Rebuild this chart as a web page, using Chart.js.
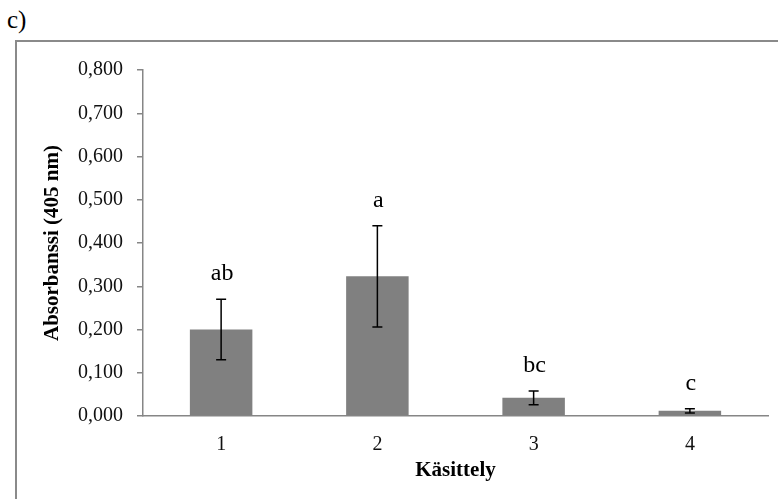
<!DOCTYPE html>
<html>
<head>
<meta charset="utf-8">
<script src="https://cdn.jsdelivr.net/npm/chart.js@4.4.1/dist/chart.umd.min.js"></script>
<style>
  html, body { margin: 0; padding: 0; background: #fff; }
  #wrap { position: relative; width: 778px; height: 499px; overflow: hidden; }
  #frame { position: absolute; left: 15px; top: 40px; width: 800px; height: 500px;
           border-left: 2px solid #8a8a8a; border-top: 2px solid #8a8a8a; box-sizing: border-box; }
  #panel { position: absolute; left: 7px; top: 7px; font: 25px/1 "Liberation Serif", "Times New Roman", serif; color: #000; }
  #c { position: absolute; left: 0; top: 0; }
</style>
</head>
<body>
<div id="wrap">
  <div id="frame"></div>
  <div id="panel">c)</div>
  <canvas id="c" width="778" height="499"></canvas>
</div>
<script>
const categories = ['1', '2', '3', '4'];
const means = [0.200, 0.323, 0.042, 0.012];
const errors = [0.070, 0.117, 0.016, 0.005];
const letters = ['ab', 'a', 'bc', 'c'];
const yTickLabels = ['0,000', '0,100', '0,200', '0,300', '0,400', '0,500', '0,600', '0,700', '0,800'];
const yTitle = 'Absorbanssi (405 nm)';
const xTitle = 'Käsittely';

const serif = '"Liberation Serif", "Times New Roman", serif';

const errorBarPlugin = {
  id: 'errorBars',
  afterDatasetsDraw(chart) {
    const ctx = chart.ctx;
    const meta = chart.getDatasetMeta(0);
    const ys = chart.scales.y;
    ctx.save();
    ctx.strokeStyle = '#000';
    ctx.lineWidth = 1.5;
    meta.data.forEach((bar, i) => {
      const x = bar.x;
      const yt = ys.getPixelForValue(means[i] + errors[i]);
      const yb = ys.getPixelForValue(means[i] - errors[i]);
      ctx.beginPath();
      ctx.moveTo(x, yt); ctx.lineTo(x, yb);
      ctx.moveTo(x - 5, yt); ctx.lineTo(x + 5, yt);
      ctx.moveTo(x - 5, yb); ctx.lineTo(x + 5, yb);
      ctx.stroke();
      ctx.fillStyle = '#000';
      ctx.font = '24px ' + serif;
      ctx.textAlign = 'center';
      ctx.textBaseline = 'alphabetic';
      ctx.fillText(letters[i], x + 1, yt - 19);
    });
    ctx.restore();
  }
};

new Chart(document.getElementById('c'), {
  type: 'bar',
  data: {
    labels: categories,
    datasets: [{
      data: means,
      backgroundColor: '#808080',
      borderWidth: 0,
      barPercentage: 0.4,
      categoryPercentage: 1.0
    }]
  },
  options: {
    responsive: false,
    animation: false,
    devicePixelRatio: 1,
    layout: { padding: { left: 30, right: 10, top: 70, bottom: 0 } },
    plugins: { legend: { display: false }, tooltip: { enabled: false } },
    scales: {
      x: {
        grid: { display: false },
        border: { display: true, color: '#868686', width: 1.5 },
        ticks: { color: '#111', font: { family: serif, size: 20 }, padding: 9, maxRotation: 0 },
        title: { display: true, text: xTitle, color: '#000',
                 font: { family: serif, size: 21, weight: 'bold' }, padding: { top: 0, bottom: 16 } },
        afterFit(s) { s.height = 83; }
      },
      y: {
        min: 0, max: 0.8,
        ticks: {
          stepSize: 0.1, color: '#111', padding: 14,
          font: { family: serif, size: 20 },
          callback: (v, i) => yTickLabels[i]
        },
        grid: { drawOnChartArea: false, drawTicks: true, tickLength: 6, color: '#868686', lineWidth: 1.5 },
        border: { display: true, color: '#868686', width: 1.5 },
        title: { display: true, text: yTitle, color: '#000',
                 font: { family: serif, size: 21, weight: 'bold' }, padding: { top: 10, bottom: 0 } },
        afterFit(s) { s.width = 113; }
      }
    }
  },
  plugins: [errorBarPlugin]
});
</script>
</body>
</html>
